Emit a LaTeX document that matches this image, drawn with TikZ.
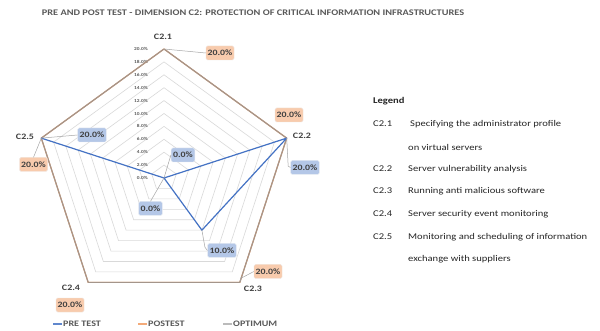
\documentclass[tikz,border=0pt]{standalone}
\usepackage{fontspec}
\setmainfont{Carlito}[FakeStretch=1.2]
\usetikzlibrary{calc}
\definecolor{pretest}{HTML}{4472C4}
\definecolor{postest}{HTML}{ED7D31}
\definecolor{optimum}{HTML}{A5A5A5}
\definecolor{outergray}{HTML}{999999}
\definecolor{gridgray}{HTML}{D9D9D9}
\definecolor{txtgray}{HTML}{404040}
\definecolor{titlegray}{HTML}{595959}
\definecolor{orangefill}{HTML}{F8CBAD}
\definecolor{bluefill}{HTML}{B4C7E7}
\definecolor{leadergray}{HTML}{A6A6A6}
\tikzset{
  gridline/.style={draw=gridgray, line width=0.6pt},
  preline/.style={draw=pretest, line width=1.2pt, line join=round},
  postline/.style={draw=postest, line width=1.1pt, line join=round},
  optline/.style={draw=outergray, line width=1.2pt, line join=round, draw opacity=0.86},
  axislabel/.style={font=\fontsize{8.3}{9}\selectfont\bfseries, text=txtgray, inner sep=0pt},
  ticklabel/.style={font=\fontsize{4.5}{5}\selectfont\bfseries, text=titlegray, anchor=east, inner sep=0pt},
  orangebox/.style={fill=orangefill, draw=orangefill!80!black!30!white, line width=0.4pt, rounded corners=1.5pt,
    font=\fontsize{8.2}{9}\selectfont\bfseries, text=txtgray, minimum width=28pt, minimum height=14pt, inner sep=1pt},
  bluebox/.style={fill=bluefill, draw=bluefill!85!black!20!white, line width=0.4pt, rounded corners=1.5pt,
    font=\fontsize{8.2}{9}\selectfont\bfseries, text=txtgray, minimum height=14pt, inner sep=2pt},
  leader/.style={draw=leadergray, line width=0.5pt},
  legendtext/.style={font=\fontsize{8.8}{10}\selectfont, text=black!85, anchor=west, inner sep=0pt},
  keytext/.style={font=\fontsize{8.4}{9}\selectfont\bfseries, text=titlegray, anchor=west, inner sep=0pt},
}
\begin{document}
\begin{tikzpicture}[x=1pt, y=-1pt]
\useasboundingbox (0,0) rectangle (600,331);
\fill[white] (0,0) rectangle (600,331);

% title
\node[font=\fontsize{8.6}{10}\selectfont\bfseries, text=titlegray] (title) at (253,13)
  {PRE AND POST TEST - DIMENSION C2: PROTECTION OF CRITICAL INFORMATION INFRASTRUCTURES};

% radar chart, centred on the origin of this scope
\begin{scope}[shift={(164,178)}, y=1pt]
  % concentric grid pentagons, 2% steps
  \foreach \k in {1,...,9} {
    \draw[gridline] (90:12.9*\k) -- (18:12.9*\k) -- (-54:12.9*\k) -- (-126:12.9*\k) -- (162:12.9*\k) -- cycle;
  }
  % value scale on the first axis
  \foreach \k/\txt in {0/0.0,1/2.0,2/4.0,3/6.0,4/8.0,5/10.0,6/12.0,7/14.0,8/16.0,9/18.0,10/20.0} {
    \node[ticklabel] (tick\k) at (-16,12.9*\k) {\txt\%};
  }
  % outer vertices (20%)
  \coordinate (v1) at (90:129);
  \coordinate (v2) at (18:129);
  \coordinate (v3) at (-54:129);
  \coordinate (v4) at (-126:129);
  \coordinate (v5) at (162:129);
  \coordinate (c0) at (0,0);
  % pre test values: 0, 20, 10, 0, 20
  \coordinate (p1) at (0,0);
  \coordinate (p2) at (18:129);
  \coordinate (p3) at (-54:64.5);
  \coordinate (p4) at (0,0);
  \coordinate (p5) at (162:129);

  % series
  \draw[postline] (v1) -- (v2) -- (v3) -- (v4) -- (v5) -- cycle;
  \draw[optline] (v1) -- (v2) -- (v3) -- (v4) -- (v5) -- cycle;
  \draw[preline] (p1) -- (p2) -- (p3) -- (p4) -- (p5) -- cycle;
\end{scope}

% axis names
\node[axislabel] (a1) at (163,37) {C2.1};
\node[axislabel] (a2) at (302,136) {C2.2};
\node[axislabel] (a3) at (253,289) {C2.3};
\node[axislabel] (a4) at (71,288) {C2.4};
\node[axislabel] (a5) at (25,137) {C2.5};

% data labels
\node[orangebox] (o1) at (220,53) {20.0\%};
\node[orangebox] (o2) at (289,115) {20.0\%};
\node[orangebox] (o3) at (268,271.5) {20.0\%};
\node[orangebox] (o4) at (70,305) {20.0\%};
\node[orangebox] (o5) at (33.5,164.5) {20.0\%};

\node[bluebox] (b1) at (183,155) {0.0\%};
\node[bluebox] (b2) at (305,167.5) {20.0\%};
\node[bluebox] (b3) at (222,250.5) {10.0\%};
\node[bluebox] (b4) at (150.5,208.5) {0.0\%};
\node[bluebox] (b5) at (92,135) {20.0\%};

% leader lines
\draw[leader] (v1) -- (o1.west);
\draw[leader] (v5) -- (b5.west);
\draw[leader] (v5) -- (o5.north);
\draw[leader] (v2) -- ++(1.5,28) -- (b2.west);
\draw[leader] (v3) -- ++(1,-4) -- (o3.west);
\draw[leader] (p3) -- ++(3,17) -- (b3.west);
\draw[leader] (c0) -- ++(6,-20) -- (b1.west);
\draw[leader] (c0) -- (b4.north);

% series key
\coordinate (k1a) at (53,324); \coordinate (k1b) at (62,324);
\coordinate (k2a) at (138,324); \coordinate (k2b) at (147,324);
\coordinate (k3a) at (223,324); \coordinate (k3b) at (232,324);
\draw[draw=pretest!85!white, line width=1.2pt] (k1a) -- (k1b);
\draw[draw=postest!65!white, line width=1.2pt] (k2a) -- (k2b);
\draw[draw=optimum!75!white, line width=1.2pt] (k3a) -- (k3b);
\node[keytext] (kt1) at (63,324) {PRE TEST};
\node[keytext] (kt2) at (148,324) {POSTEST};
\node[keytext] (kt3) at (233,324) {OPTIMUM};

% legend of dimensions
\node[legendtext, font=\fontsize{8.8}{10}\selectfont\bfseries] (lg) at (373,101) {Legend};
\node[legendtext] (l1c) at (373,124) {C2.1};
\node[legendtext] (l1d) at (410,124) {Specifying the administrator profile};
\node[legendtext] (l1e) at (408,147) {on virtual servers};
\node[legendtext] (l2c) at (373,169) {C2.2};
\node[legendtext] (l2d) at (408,169) {Server vulnerability analysis};
\node[legendtext] (l3c) at (373,191) {C2.3};
\node[legendtext] (l3d) at (408,191) {Running anti malicious software};
\node[legendtext] (l4c) at (373,214) {C2.4};
\node[legendtext] (l4d) at (408,214) {Server security event monitoring};
\node[legendtext] (l5c) at (373,237) {C2.5};
\node[legendtext] (l5d) at (408,237) {Monitoring and scheduling of information};
\node[legendtext] (l5e) at (408,259) {exchange with suppliers};
\end{tikzpicture}
\end{document}
